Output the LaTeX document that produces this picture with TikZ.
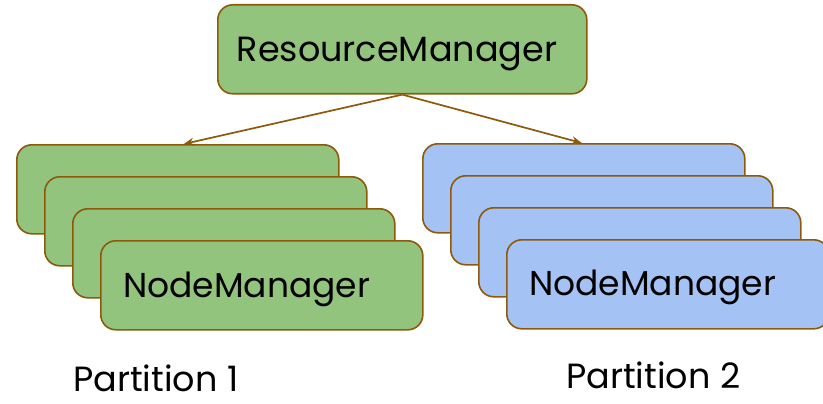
\documentclass[tikz,border=0pt]{standalone}
\usepackage{fontspec}
\setmainfont{Poppins}
\usetikzlibrary{arrows.meta}
\definecolor{boxgreen}{RGB}{147,196,125}
\definecolor{boxblue}{RGB}{164,194,244}
\definecolor{edgebrown}{RGB}{140,90,10}
\tikzset{
  mgrbox/.style={draw=edgebrown, line width=1.6pt, rounded corners=15pt,
    minimum width=322pt, minimum height=89pt, anchor=north west, inner sep=0pt},
  greenbox/.style={mgrbox, fill=boxgreen},
  bluebox/.style={mgrbox, fill=boxblue},
  boxtext/.style={anchor=base west, inner sep=0pt, font=\fontsize{34.5}{38}\selectfont},
  parttext/.style={anchor=base west, inner sep=0pt, font=\fontsize{35}{38}\selectfont},
  link/.style={draw=edgebrown, line width=1.7pt, -{Stealth[length=10pt,width=8pt]}}
}
\begin{document}
\begin{tikzpicture}[x=1pt,y=-1pt]
\useasboundingbox (0,0) rectangle (823,404);
% top-level manager
\node[greenbox, minimum width=369pt] (rm) at (217,4) {};
\node[anchor=base, inner sep=0pt, font=\fontsize{35}{40}\selectfont] (rmt) at (397,62) {ResourceManager};
% left partition stack
\node[greenbox] (l1) at (16,144) {};
\node[greenbox] (l2) at (44,176) {};
\node[greenbox] (l3) at (72,208) {};
\node[greenbox] (l4) at (100,240) {};
\node[boxtext] (l4t) at (123,297) {NodeManager};
% right partition stack
\node[bluebox] (r1) at (422,143) {};
\node[bluebox] (r2) at (450,175) {};
\node[bluebox] (r3) at (478,207) {};
\node[bluebox] (r4) at (506,239) {};
\node[boxtext] (r4t) at (529,295) {NodeManager};
% links
\draw[link] (rm.south) -- ([xshift=6pt]l1.north);
\draw[link] (rm.south) -- ([xshift=-2pt]r1.north);
% partition labels
\node[parttext] (p1) at (73,391) {Partition 1};
\node[parttext] (p2) at (566,388) {Partition 2};
\end{tikzpicture}
\end{document}
